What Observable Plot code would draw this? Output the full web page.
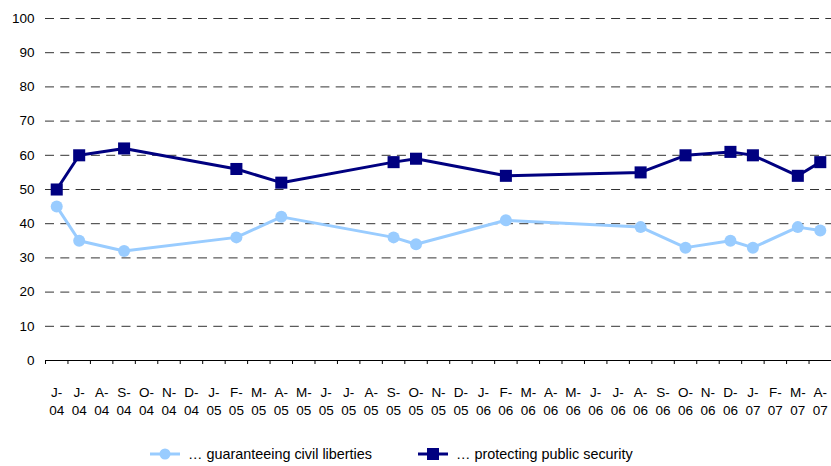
<!DOCTYPE html>
<html>
<head>
<meta charset="utf-8">
<script src="https://cdn.jsdelivr.net/npm/d3@7"></script>
<script src="https://cdn.jsdelivr.net/npm/@observablehq/plot@0.6"></script>
<style>
  html, body { margin: 0; padding: 0; background: #fff; }
  body { width: 831px; font-family: "Liberation Sans", Arial, sans-serif; }
  #chart svg { display: block; }
  .legend { display: flex; align-items: center; height: 36px; font-size: 14.4px; color: #000; }
  .legend .item { display: flex; align-items: center; position: absolute; }
  .legend svg { display: block; margin-right: 8px; }
</style>
</head>
<body>
<div id="chart"></div>
<div class="legend" id="legend" style="position:relative"></div>
<script>
// Monthly survey calendar, June 2004 – April 2007 (one category per month)
const monthLabels = [
  "J-\n04", "J-\n04", "A-\n04", "S-\n04", "O-\n04", "N-\n04", "D-\n04",
  "J-\n05", "F-\n05", "M-\n05", "A-\n05", "M-\n05", "J-\n05", "J-\n05", "A-\n05", "S-\n05", "O-\n05", "N-\n05", "D-\n05",
  "J-\n06", "F-\n06", "M-\n06", "A-\n06", "M-\n06", "J-\n06", "J-\n06", "A-\n06", "S-\n06", "O-\n06", "N-\n06", "D-\n06",
  "J-\n07", "F-\n07", "M-\n07", "A-\n07"
];

// Month index (into monthLabels) of each survey wave
const surveyMonths = [0, 1, 3, 8, 10, 15, 16, 20, 26, 28, 30, 31, 33, 34];

// Share of respondents (%) at each wave
const civilLiberties = [45, 35, 32, 36, 42, 36, 34, 41, 39, 33, 35, 33, 39, 38];
const publicSecurity = [50, 60, 62, 56, 52, 58, 59, 54, 55, 60, 61, 60, 54, 58];

const seriesNames = ["… guaranteeing civil liberties", "… protecting public security"];
const yTicks = [0, 10, 20, 30, 40, 50, 60, 70, 80, 90, 100];

const lightBlue = "#99ccff";
const navy = "#000080";

const liberties = surveyMonths.map((m, i) => ({month: m, value: civilLiberties[i]}));
const security = surveyMonths.map((m, i) => ({month: m, value: publicSecurity[i]}));

const n = monthLabels.length;
const centers = d3.range(n);
const boundaries = d3.range(n + 1).map(i => i - 0.5);

const chart = Plot.plot({
  width: 831,
  height: 430,
  marginLeft: 45,
  marginRight: 0,
  marginTop: 18,
  marginBottom: 70,
  style: {fontFamily: "'Liberation Sans', Arial, sans-serif", fontSize: "13.5px", color: "#000", background: "#fff"},
  x: {type: "linear", domain: [-0.5, n - 0.5]},
  y: {domain: [0, 100]},
  marks: [
    // dashed horizontal gridlines
    Plot.ruleY(yTicks.filter(d => d > 0), {stroke: "#333", strokeWidth: 1, strokeDasharray: "9,6.3"}),
    // category axis baseline
    Plot.ruleY([0], {stroke: "#000", strokeWidth: 1}),
    Plot.axisY({ticks: yTicks, tickSize: 0, tickPadding: 11, label: null, fill: "#000"}),
    // tick marks between months
    Plot.axisX({ticks: boundaries, tickSize: 4, tickFormat: () => "", label: null, stroke: "#000"}),
    // two-line month labels centred on each month
    Plot.axisX({ticks: centers, tickSize: 0, tickPadding: 24, tickFormat: i => monthLabels[i], label: null, lineHeight: 1.3, fill: "#000"}),
    Plot.line(liberties, {x: "month", y: "value", stroke: lightBlue, strokeWidth: 3}),
    Plot.dot(liberties, {x: "month", y: "value", fill: lightBlue, r: 6, symbol: "circle"}),
    Plot.line(security, {x: "month", y: "value", stroke: navy, strokeWidth: 3}),
    Plot.dot(security, {x: "month", y: "value", fill: navy, r: 6.8, symbol: "square"})
  ]
});
document.getElementById("chart").append(chart);

// Legend below the plot
const legend = document.getElementById("legend");
const swatches = [
  {name: seriesNames[0], color: lightBlue, shape: "circle", left: 150},
  {name: seriesNames[1], color: navy, shape: "square", left: 418}
];
for (const s of swatches) {
  const item = document.createElement("div");
  item.className = "item";
  item.style.left = s.left + "px";
  item.style.top = "15px";
  const marker = s.shape === "circle"
    ? `<circle cx="15" cy="9" r="5.5" fill="${s.color}"/>`
    : `<rect x="9" y="3" width="12" height="12" fill="${s.color}"/>`;
  item.innerHTML = `<svg width="30" height="18"><line x1="0" x2="30" y1="9" y2="9" stroke="${s.color}" stroke-width="3"/>${marker}</svg><span>${s.name}</span>`;
  legend.append(item);
}
</script>
</body>
</html>
